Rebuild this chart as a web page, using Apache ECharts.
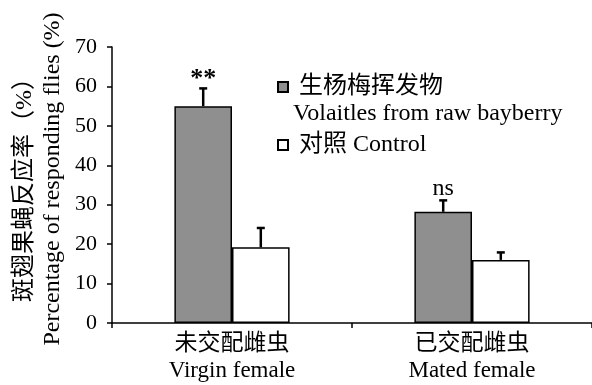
<!DOCTYPE html>
<html>
<head>
<meta charset="utf-8">
<script src="https://cdn.jsdelivr.net/npm/echarts@6/dist/echarts.min.js"></script>
<style>html,body{margin:0;padding:0;background:#fff;}#c{width:592px;height:385px;}</style>
</head>
<body>
<div id="c"></div>
<script>
var categories = ['未交配雌虫\nVirgin female', '已交配雌虫\nMated female'];
var treatment = [55, 28.2];
var treatmentErr = [4.5, 2.9];
var control = [19.2, 16];
var controlErr = [4.9, 1.9];
var sigLabels = ['**', 'ns'];
var yTicks = [0, 10, 20, 30, 40, 50, 60, 70];

var FONT = '"Liberation Serif", "Times New Roman", "Noto Sans CJK SC", serif';
var chart = echarts.init(document.getElementById('c'), null, {renderer: 'canvas'});

function errData(vals, errs) {
  return vals.map(function (v, i) { return [i, v, errs[i]]; });
}

function makeErrRender(side, labels) {
  return function (params, api) {
    var idx = api.value(0), mean = api.value(1), err = api.value(2);
    var base = api.coord([idx, mean]);
    var top = api.coord([idx, mean + err]);
    var band = api.size([1, 0])[0];
    var bw = band * 0.24;
    var x = base[0] + side * bw / 2;
    var cap = 4;
    var children = [
      {type: 'line', shape: {x1: x, y1: base[1], x2: x, y2: top[1]}, style: {stroke: '#000', lineWidth: 2.5}},
      {type: 'line', shape: {x1: x - cap, y1: top[1], x2: x + cap, y2: top[1]}, style: {stroke: '#000', lineWidth: 2.5}}
    ];
    if (labels) {
      var lab = labels[params.dataIndex];
      var isStar = lab.indexOf('*') >= 0;
      children.push({type: 'text', x: x, y: top[1] - (isStar ? 9 : 12), style: {text: lab, font: (isStar ? 'bold 26px ' : '24px ') + FONT, fill: '#000', align: 'center', verticalAlign: 'middle'}});
    }
    return {type: 'group', children: children};
  };
}

var option = {
  animation: false,
  backgroundColor: '#fff',
  textStyle: {fontFamily: FONT, color: '#000'},
  grid: {left: 112, right: 0, top: 47, bottom: 62, containLabel: false},
  legend: {
    orient: 'vertical', left: 272, top: 70, itemWidth: 10, itemHeight: 10, itemGap: 34,
    icon: 'rect',
    textStyle: {fontFamily: FONT, fontSize: 24, color: '#000', padding: [0, 0, 0, 6]},
    data: ['生杨梅挥发物', '对照 Control']
  },
  xAxis: {
    type: 'category', data: categories, boundaryGap: true,
    axisLine: {lineStyle: {color: '#000', width: 1.5}},
    axisTick: {show: true, inside: false, length: 5, alignWithLabel: false, lineStyle: {color: '#000', width: 1.5}},
    axisLabel: {fontFamily: FONT, fontSize: 23, lineHeight: 27, color: '#000', margin: 7}
  },
  yAxis: {
    type: 'value', min: yTicks[0], max: yTicks[yTicks.length - 1], interval: 10,
    splitLine: {show: false},
    axisLine: {show: true, lineStyle: {color: '#000', width: 1.5}},
    axisTick: {show: true, inside: false, length: 5, lineStyle: {color: '#000', width: 1.5}},
    axisLabel: {fontFamily: FONT, fontSize: 22, color: '#000', margin: 15}
  },
  graphic: [
    {type: 'text', x: 25, y: 184, rotation: Math.PI / 2, style: {text: '斑翅果蝇反应率（%）', font: '24px ' + FONT, fill: '#000', align: 'center', verticalAlign: 'middle'}},
    {type: 'text', x: 53, y: 179, rotation: Math.PI / 2, style: {text: 'Percentage of responding flies (%)', font: '24px ' + FONT, fill: '#000', align: 'center', verticalAlign: 'middle'}},
    {type: 'text', x: 293, y: 114, style: {text: 'Volaitles from raw bayberry', font: '24px ' + FONT, fill: '#000', align: 'left', verticalAlign: 'middle'}}
  ],
  series: [
    {name: '生杨梅挥发物', type: 'bar', data: treatment, barWidth: '24%', barGap: '0%',
     itemStyle: {color: '#8f8f8f', borderColor: '#000', borderWidth: 1.5}},
    {name: '对照 Control', type: 'bar', data: control, barWidth: '24%', barGap: '0%',
     itemStyle: {color: '#fff', borderColor: '#000', borderWidth: 1.5}},
    {type: 'custom', renderItem: makeErrRender(-1, sigLabels), data: errData(treatment, treatmentErr), z: 10, encode: {x: 0, y: 1}},
    {type: 'custom', renderItem: makeErrRender(1, null), data: errData(control, controlErr), z: 10, encode: {x: 0, y: 1}}
  ]
};
chart.setOption(option);
</script>
</body>
</html>
